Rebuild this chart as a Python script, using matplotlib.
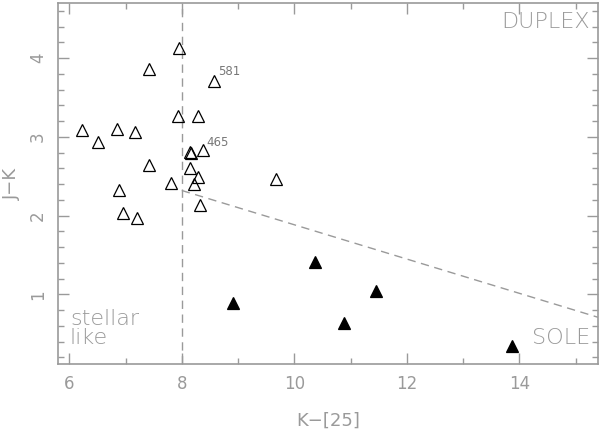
import matplotlib
matplotlib.use("Agg")
import matplotlib.pyplot as plt
from matplotlib.ticker import MultipleLocator

# ── Datos ──────────────────────────────────────────────────────────────────────
# Fuentes "duplex" (triángulos abiertos)
duplex_x = [7.95, 7.41, 8.58, 7.93, 8.28, 6.23, 6.84, 7.17, 6.51, 8.15, 8.17,
            8.37, 7.42, 8.14, 8.28, 7.80, 8.22, 9.68, 6.88, 8.33, 6.95, 7.20]
duplex_y = [4.13, 3.86, 3.71, 3.26, 3.26, 3.09, 3.10, 3.06, 2.93, 2.81, 2.80,
            2.84, 2.64, 2.61, 2.49, 2.42, 2.40, 2.46, 2.33, 2.14, 2.04, 1.97]

# Fuentes "sole" (triángulos llenos)
sole_x = [8.91, 10.37, 11.46, 10.89, 13.87]
sole_y = [0.89, 1.41, 1.05, 0.64, 0.34]

# Etiquetas de fuentes
etiquetas = ["581", "465"]
etiq_x = [8.65, 8.44]
etiq_y = [3.78, 2.88]

# Líneas divisorias
div_x = [8.0, 15.4]
div_y = [2.32, 0.71]
corte_x = 8.0

GRIS = "#9a9a9a"

plt.rcParams.update({
    "font.family": "DejaVu Sans",
    "xtick.direction": "in",
    "ytick.direction": "in",
    "xtick.top": True,
    "ytick.right": True,
})

fig = plt.figure(figsize=(6.0, 4.33), dpi=100)
ax = fig.add_axes([0.0967, 0.159, 0.9, 0.834])

ax.axvline(corte_x, color=GRIS, lw=1.0, ls=(0, (6, 4)))
ax.plot(div_x, div_y, color=GRIS, lw=1.0, ls=(0, (6, 4)))

ax.plot(duplex_x, duplex_y, ls="none", marker="^", ms=8, mfc="none",
        mec="black", mew=0.9)
ax.plot(sole_x, sole_y, ls="none", marker="^", ms=8, mfc="black",
        mec="black", mew=0.9)

for t, x, y in zip(etiquetas, etiq_x, etiq_y):
    ax.text(x, y, t, fontsize=8.5, color="#777777", ha="left", va="baseline")

ax.text(0.985, 0.975, "DUPLEX", transform=ax.transAxes, ha="right", va="top",
        fontsize=16, color=GRIS, fontweight="light")
ax.text(0.985, 0.045, "SOLE", transform=ax.transAxes, ha="right", va="bottom",
        fontsize=16, color=GRIS, fontweight="light")
ax.text(0.022, 0.045, "stellar\nlike", transform=ax.transAxes, ha="left",
        va="bottom", fontsize=16, color=GRIS, fontweight="light",
        linespacing=0.95)

ax.set_xlim(5.8, 15.4)
ax.set_ylim(0.115, 4.70)
ax.xaxis.set_major_locator(MultipleLocator(2))
ax.xaxis.set_minor_locator(MultipleLocator(1))
ax.yaxis.set_major_locator(MultipleLocator(1))
ax.yaxis.set_minor_locator(MultipleLocator(0.2))

for s in ax.spines.values():
    s.set_color(GRIS)
    s.set_linewidth(1.2)
ax.tick_params(which="both", colors=GRIS, labelcolor=GRIS, width=1.0)
ax.tick_params(which="major", length=8, labelsize=12, pad=8)
ax.tick_params(which="minor", length=4)
for lab in ax.get_yticklabels():
    lab.set_rotation(90)
    lab.set_va("center")

ax.set_xlabel("K−[25]", fontsize=13, color=GRIS, labelpad=13)
ax.set_ylabel("J−K", fontsize=13, color=GRIS, labelpad=6)

fig.savefig("out.png", dpi=100)
